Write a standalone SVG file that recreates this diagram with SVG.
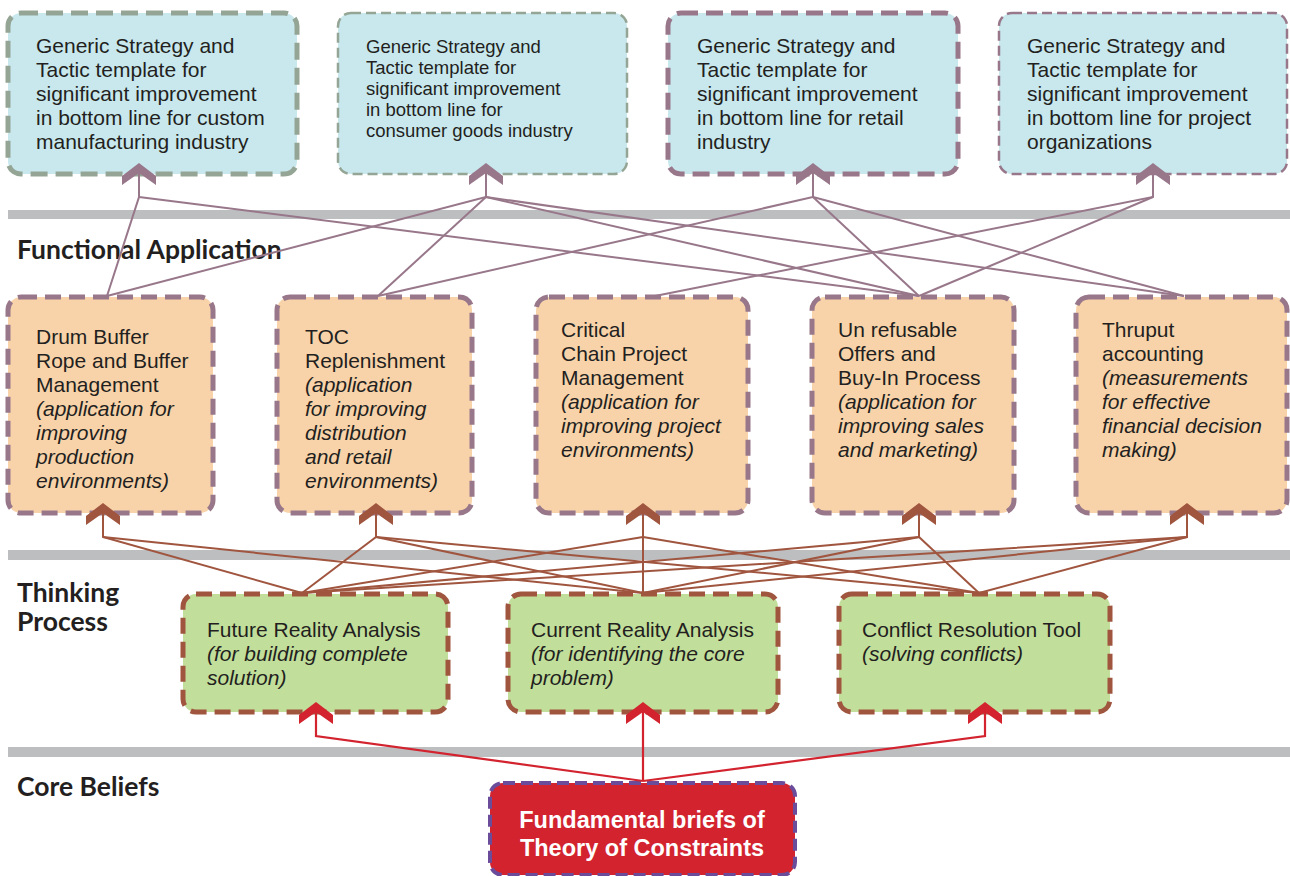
<svg xmlns="http://www.w3.org/2000/svg" width="1290" height="876" viewBox="0 0 1290 876">
<style>
.band{fill:#bcbec0}
.sec{font-family:Lato,"Liberation Sans",sans-serif;font-weight:bold;font-size:26.5px;fill:#231f20}
.t{font-family:"Liberation Sans",Arial,sans-serif;fill:#231f20}
.top{font-size:21px}
.top2{font-size:18.5px}
.mid{font-size:21px}
.grn{font-size:21px}
.it{font-style:italic}
.boxG{fill:#c8e8ee;stroke:#95a595;stroke-dasharray:17 8;stroke-width:5}
.boxGt{fill:#c8e8ee;stroke:#95a595;stroke-dasharray:10 5;stroke-width:2.5}
.boxM{fill:#c8e8ee;stroke:#98778a;stroke-dasharray:17 8;stroke-width:5}
.boxMt{fill:#c8e8ee;stroke:#98778a;stroke-dasharray:10 5;stroke-width:2.5}
.boxO{fill:#f8d3aa;stroke:#98778a;stroke-dasharray:16 8;stroke-width:5}
.boxGr{fill:#c2de9b;stroke:#a0553f;stroke-dasharray:16 8;stroke-width:5}
.boxR{fill:#d2232f;stroke:#6b4c9a;stroke-dasharray:12 6;stroke-width:4}
.cm{stroke:#98778a;stroke-width:2;fill:none}
.cb{stroke:#a0553f;stroke-width:2;fill:none}
.cr{stroke:#d2232f;stroke-width:2.2;fill:none}
.wt{font-family:"Liberation Sans",Arial,sans-serif;font-weight:bold;font-size:23.5px;fill:#ffffff}
</style>
<defs>
<path id="chev" d="M0 0 L17 13 L17 22 L0 10 L-17 22 L-17 13 Z"/>
</defs>

<g id="bands">
<rect class="band" x="8" y="210" width="1282" height="9"/>
<rect class="band" x="8" y="550" width="1282" height="10"/>
<rect class="band" x="8" y="747" width="1282" height="10"/>
</g>

<g id="sections">
<text class="sec" x="17" y="259">Functional Application</text>
<text class="sec" x="17" y="602">Thinking</text>
<text class="sec" x="17" y="631">Process</text>
<text class="sec" x="17" y="796">Core Beliefs</text>
</g>

<g id="top1">
<rect class="boxG" x="8" y="13" width="289" height="161" rx="13"/>
<text class="t top" x="36" y="53">Generic Strategy and</text>
<text class="t top" x="36" y="77">Tactic template for</text>
<text class="t top" x="36" y="101">significant improvement</text>
<text class="t top" x="36" y="125">in bottom line for custom</text>
<text class="t top" x="36" y="149">manufacturing industry</text>
</g>
<g id="top2">
<rect class="boxGt" x="338" y="13" width="289" height="161" rx="13"/>
<text class="t top2" x="366" y="53">Generic Strategy and</text>
<text class="t top2" x="366" y="74">Tactic template for</text>
<text class="t top2" x="366" y="95">significant improvement</text>
<text class="t top2" x="366" y="116">in bottom line for</text>
<text class="t top2" x="366" y="137">consumer goods industry</text>
</g>
<g id="top3">
<rect class="boxM" x="668" y="13" width="290" height="161" rx="13"/>
<text class="t top" x="697" y="53">Generic Strategy and</text>
<text class="t top" x="697" y="77">Tactic template for</text>
<text class="t top" x="697" y="101">significant improvement</text>
<text class="t top" x="697" y="125">in bottom line for retail</text>
<text class="t top" x="697" y="149">industry</text>
</g>
<g id="top4">
<rect class="boxMt" x="999" y="13" width="288" height="161" rx="13"/>
<text class="t top" x="1027" y="53">Generic Strategy and</text>
<text class="t top" x="1027" y="77">Tactic template for</text>
<text class="t top" x="1027" y="101">significant improvement</text>
<text class="t top" x="1027" y="125">in bottom line for project</text>
<text class="t top" x="1027" y="149">organizations</text>
</g>

<g id="drum">
<rect class="boxO" x="8" y="297" width="205" height="216" rx="13"/>
<text class="t mid" x="36" y="344">Drum Buffer</text>
<text class="t mid" x="36" y="368">Rope and Buffer</text>
<text class="t mid" x="36" y="392">Management</text>
<text class="t mid it" x="36" y="416">(application for</text>
<text class="t mid it" x="36" y="440">improving</text>
<text class="t mid it" x="36" y="464">production</text>
<text class="t mid it" x="36" y="488">environments)</text>
</g>
<g id="toc">
<rect class="boxO" x="277" y="297" width="195" height="216" rx="13"/>
<text class="t mid" x="305" y="344">TOC</text>
<text class="t mid" x="305" y="368">Replenishment</text>
<text class="t mid it" x="305" y="392">(application</text>
<text class="t mid it" x="305" y="416">for improving</text>
<text class="t mid it" x="305" y="440">distribution</text>
<text class="t mid it" x="305" y="464">and retail</text>
<text class="t mid it" x="305" y="488">environments)</text>
</g>
<g id="ccpm">
<rect class="boxO" x="536" y="297" width="212" height="216" rx="13"/>
<text class="t mid" x="561" y="337">Critical</text>
<text class="t mid" x="561" y="361">Chain Project</text>
<text class="t mid" x="561" y="385">Management</text>
<text class="t mid it" x="561" y="409">(application for</text>
<text class="t mid it" x="561" y="433">improving project</text>
<text class="t mid it" x="561" y="457">environments)</text>
</g>
<g id="unrefusable">
<rect class="boxO" x="812" y="297" width="202" height="216" rx="13"/>
<text class="t mid" x="838" y="337">Un refusable</text>
<text class="t mid" x="838" y="361">Offers and</text>
<text class="t mid" x="838" y="385">Buy-In Process</text>
<text class="t mid it" x="838" y="409">(application for</text>
<text class="t mid it" x="838" y="433">improving sales</text>
<text class="t mid it" x="838" y="457">and marketing)</text>
</g>
<g id="thruput">
<rect class="boxO" x="1076" y="297" width="211" height="216" rx="13"/>
<text class="t mid" x="1102" y="337">Thruput</text>
<text class="t mid" x="1102" y="361">accounting</text>
<text class="t mid it" x="1102" y="385">(measurements</text>
<text class="t mid it" x="1102" y="409">for effective</text>
<text class="t mid it" x="1102" y="433">financial decision</text>
<text class="t mid it" x="1102" y="457">making)</text>
</g>

<g id="future">
<rect class="boxGr" x="183" y="594" width="265" height="118" rx="13"/>
<text class="t grn" x="207" y="637">Future Reality Analysis</text>
<text class="t grn it" x="207" y="661">(for building complete</text>
<text class="t grn it" x="207" y="685">solution)</text>
</g>
<g id="current">
<rect class="boxGr" x="508" y="594" width="270" height="118" rx="13"/>
<text class="t grn" x="531" y="637">Current Reality Analysis</text>
<text class="t grn it" x="531" y="661">(for identifying the core</text>
<text class="t grn it" x="531" y="685">problem)</text>
</g>
<g id="conflict">
<rect class="boxGr" x="839" y="594" width="271" height="118" rx="13"/>
<text class="t grn" x="862" y="637">Conflict Resolution Tool</text>
<text class="t grn it" x="862" y="661">(solving conflicts)</text>
</g>

<g id="fundamental">
<rect class="boxR" x="490" y="783" width="305" height="92" rx="13"/>
<text class="wt" x="642" y="828" text-anchor="middle">Fundamental briefs of</text>
<text class="wt" x="642" y="856" text-anchor="middle">Theory of Constraints</text>
</g>

<g id="connectors">
<g class="cm">
<polyline points="139,170 139,197 107,296"/>
<polyline points="139,197 919,296"/>
<polyline points="486,170 486,197 107,296"/>
<polyline points="486,197 378,296"/>
<polyline points="486,197 919,296"/>
<polyline points="486,197 1184,296"/>
<polyline points="813,170 813,197 378,296"/>
<polyline points="813,197 919,296"/>
<polyline points="813,197 1184,296"/>
<polyline points="1153,170 1153,197 655,296"/>
<polyline points="1153,197 919,296"/>
</g>
<g fill="#98778a">
<use href="#chev" x="139" y="163"/>
<use href="#chev" x="486" y="163"/>
<use href="#chev" x="813" y="163"/>
<use href="#chev" x="1153" y="163"/>
</g>
<g class="cb">
<polyline points="103,510 103,537 302,593"/>
<polyline points="103,537 643,593"/>
<polyline points="376,510 376,537 302,593"/>
<polyline points="376,537 643,593"/>
<polyline points="376,537 979,593"/>
<polyline points="643,510 643,593"/>
<polyline points="643,537 302,593"/>
<polyline points="643,537 979,593"/>
<polyline points="919,510 919,537 302,593"/>
<polyline points="919,537 643,593"/>
<polyline points="919,537 979,593"/>
<polyline points="1187,510 1187,537 302,593"/>
<polyline points="1187,537 643,593"/>
<polyline points="1187,537 979,593"/>
</g>
<g fill="#a0553f">
<use href="#chev" x="103" y="503"/>
<use href="#chev" x="376" y="503"/>
<use href="#chev" x="643" y="503"/>
<use href="#chev" x="919" y="503"/>
<use href="#chev" x="1187" y="503"/>
</g>
<g class="cr">
<polyline points="316,710 316,736 643,781"/>
<polyline points="643,710 643,781"/>
<polyline points="985,710 985,736 643,781"/>
</g>
<g fill="#d2232f">
<use href="#chev" x="316" y="702"/>
<use href="#chev" x="643" y="702"/>
<use href="#chev" x="985" y="702"/>
</g>
</g>
</svg>
